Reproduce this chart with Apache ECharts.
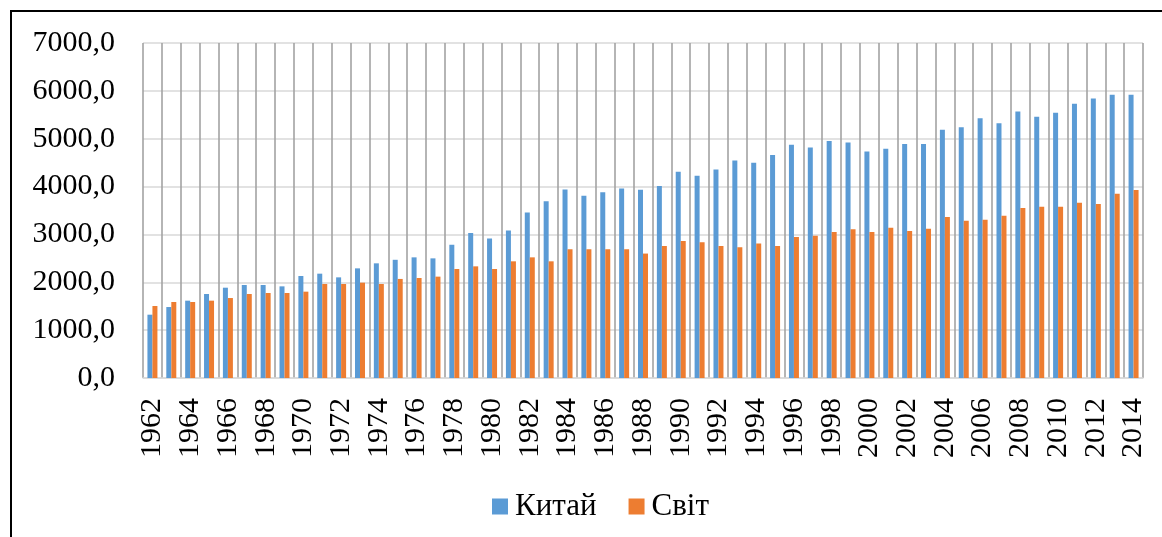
<!DOCTYPE html>
<html>
<head>
<meta charset="utf-8">
<title>Китай / Світ</title>
<script src="https://cdn.jsdelivr.net/npm/echarts@6/dist/echarts.min.js"></script>
<style>
    html, body { margin: 0; padding: 0; background: #fff; }
    #main { width: 1162px; height: 537px; }
</style>
</head>
<body>
<div id="main"></div>
<script>
// роки
var years = [];
for (var y = 1962; y <= 2014; y++) years.push(String(y));

// Китай
var china = [1323, 1483, 1616, 1755, 1887, 1943, 1943, 1915, 2131, 2180,
    2103, 2291, 2396, 2470, 2521, 2500, 2785, 3028, 2917, 3083,
    3458, 3694, 3938, 3806, 3882, 3958, 3936, 4011, 4311, 4227,
    4359, 4547, 4499, 4659, 4875, 4819, 4951, 4923, 4735, 4791,
    4892, 4892, 5185, 5241, 5429, 5324, 5569, 5457, 5541, 5729,
    5841, 5918, 5918];

// Світ
var world = [1504, 1588, 1588, 1616, 1671, 1755, 1776, 1776, 1804, 1964,
    1964, 1992, 1964, 2070, 2090, 2118, 2278, 2333, 2278, 2438,
    2521, 2438, 2688, 2688, 2688, 2688, 2600, 2758, 2862, 2834,
    2758, 2730, 2813, 2758, 2946, 2974, 3050, 3106, 3050, 3140,
    3070, 3119, 3364, 3287, 3308, 3392, 3552, 3580, 3580, 3664,
    3636, 3852, 3929];

var serif = '"Liberation Serif", "Times New Roman", serif';

var chart = echarts.init(document.getElementById('main'));
var option = {
    animation: false,
    textStyle: { fontFamily: serif },
    grid: { left: 143, top: 43, width: 1000, height: 335 },
    legend: {
        bottom: 10,
        left: 487,
        itemWidth: 16,
        itemHeight: 16,
        itemGap: 32,
        icon: 'rect',
        textStyle: { fontFamily: serif, fontSize: 31, color: '#000', padding: [0, 0, 0, 2] },
        data: ['Китай', 'Світ']
    },
    xAxis: {
        type: 'category',
        data: years,
        axisLine: { lineStyle: { color: '#d9d9d9', width: 1.5 } },
        axisTick: { show: false },
        axisLabel: {
            interval: 1,
            rotate: 90,
            margin: 20,
            fontFamily: serif,
            fontSize: 30,
            color: '#000'
        },
        splitLine: { show: true, interval: 0, lineStyle: { color: '#a3a3a3', width: 1.6 } }
    },
    yAxis: {
        type: 'value',
        min: 0,
        max: 7000,
        interval: 1000,
        axisLine: { show: false },
        axisTick: { show: false },
        axisLabel: {
            margin: 28,
            fontFamily: serif,
            fontSize: 30,
            color: '#000',
            formatter: function (v) { return v.toFixed(1).replace('.', ','); }
        },
        splitLine: { lineStyle: { color: '#d9d9d9', width: 1.5 } }
    },
    series: [
        { name: 'Китай', type: 'bar', data: china, barWidth: 5, barGap: '0%', itemStyle: { color: '#5b9bd5' } },
        { name: 'Світ', type: 'bar', data: world, barWidth: 5, barGap: '0%', itemStyle: { color: '#ed7d31' } }
    ],
    graphic: [{
        type: 'polyline',
        shape: { points: [[11, 537], [11, 11], [1162, 11]] },
        style: { stroke: '#000', lineWidth: 2, fill: null }
    }]
};
chart.setOption(option);
</script>
</body>
</html>
